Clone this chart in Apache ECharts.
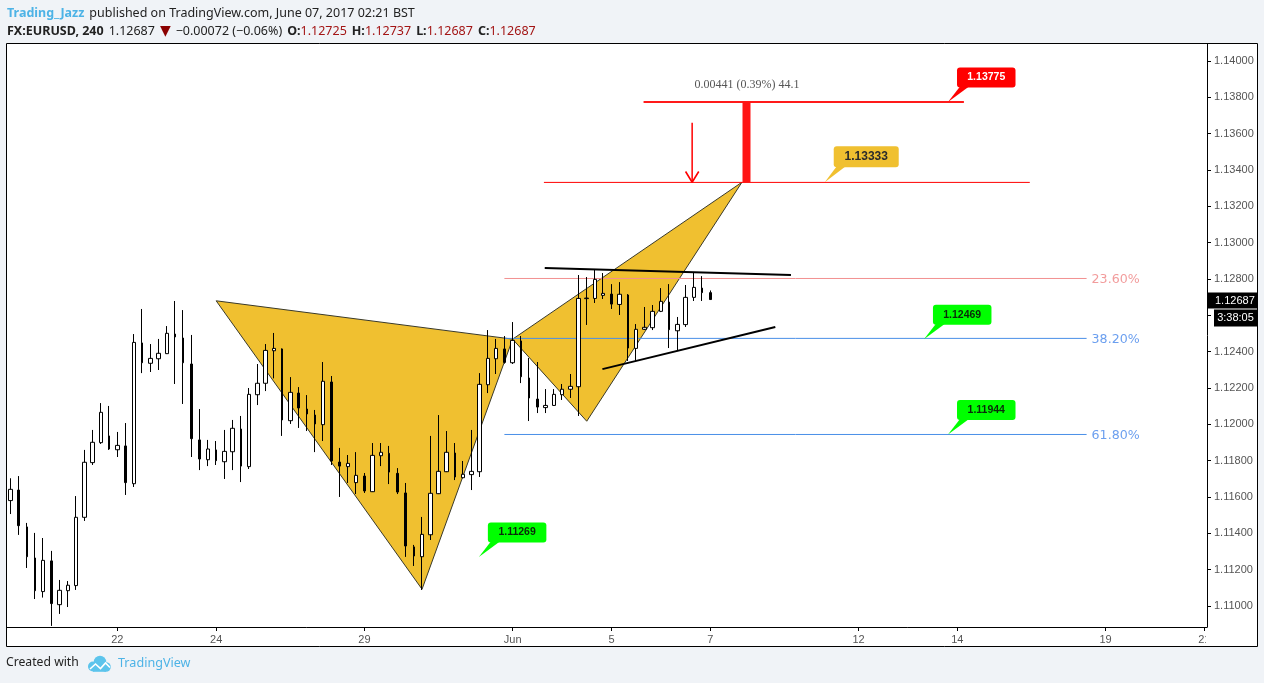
<!DOCTYPE html>
<html>
<head>
<meta charset="utf-8">
<style>html,body{margin:0;padding:0;background:#F0F3F7}#c{width:1264px;height:683px}</style>
<script src="https://cdn.jsdelivr.net/npm/echarts@6/dist/echarts.min.js"></script>
</head>
<body>
<div id="c"></div>
<script>
const opens=[1.11580,1.11638,1.11435,1.11264,1.11079,1.11248,1.11007,1.11084,1.11112,1.11488,1.11789,1.11899,1.11936,1.11860,1.11881,1.11673,1.12448,1.12336,1.12361,1.12389,1.12497,1.12475,1.12332,1.11914,1.11805,1.11859,1.11794,1.11849,1.11974,1.11767,1.12163,1.12226,1.12405,1.12415,1.12020,1.12172,1.12084,1.12051,1.11998,1.12233,1.11792,1.11767,1.11679,1.11715,1.11629,1.11827,1.11840,1.11730,1.11622,1.11325,1.11271,1.11392,1.11618,1.11739,1.11842,1.11706,1.11723,1.11739,1.12218,1.12361,1.12415,1.12339,1.12459,1.12255,1.12139,1.12092,1.12104,1.12163,1.12193,1.12207,1.12692,1.12693,1.12710,1.12717,1.12660,1.12712,1.12418,1.12523,1.12532,1.12622,1.12673,1.12515,1.12549,1.12699,1.12750,1.12725];
const closes=[1.11642,1.11442,1.11271,1.11084,1.11251,1.11013,1.11086,1.11114,1.11488,1.11791,1.11901,1.12066,1.11864,1.11884,1.11679,1.12451,1.12339,1.12363,1.12391,1.12501,1.12481,1.12339,1.11921,1.11809,1.11864,1.11800,1.11851,1.11978,1.11770,1.12165,1.12226,1.12407,1.12418,1.12024,1.12176,1.12090,1.12057,1.12002,1.12237,1.11798,1.11770,1.11785,1.11719,1.11633,1.11829,1.11846,1.11737,1.11627,1.11330,1.11275,1.11394,1.11620,1.11741,1.11846,1.11710,1.11725,1.11741,1.12220,1.12363,1.12418,1.12341,1.12462,1.12262,1.12145,1.12095,1.12104,1.12165,1.12193,1.12209,1.12693,1.12695,1.12798,1.12721,1.12662,1.12716,1.12420,1.12523,1.12534,1.12622,1.12677,1.12521,1.12550,1.12699,1.12754,1.12725,1.12687];
const lows=[1.11506,1.11391,1.11209,1.11038,1.11046,1.10890,1.10956,1.10994,1.11088,1.11468,1.11776,1.11892,1.11859,1.11820,1.11611,1.11655,1.12282,1.12288,1.12299,1.12387,1.12222,1.12112,1.11820,1.11748,1.11770,1.11776,1.11699,1.11748,1.11682,1.11754,1.12106,1.12183,1.12253,1.11936,1.12002,1.11980,1.11963,1.11847,1.11908,1.11776,1.11600,1.11677,1.11616,1.11622,1.11627,1.11770,1.11671,1.11616,1.11270,1.11220,1.11088,1.11363,1.11616,1.11737,1.11693,1.11703,1.11638,1.11710,1.12172,1.12277,1.12334,1.12332,1.12227,1.12018,1.12062,1.12062,1.12101,1.12134,1.12145,1.12046,1.12547,1.12668,1.12690,1.12635,1.12602,1.12349,1.12349,1.12519,1.12519,1.12618,1.12420,1.12409,1.12536,1.12679,1.12679,1.12687];
const highs=[1.11703,1.11715,1.11457,1.11402,1.11374,1.11303,1.11143,1.11137,1.11605,1.11859,1.11969,1.12117,1.12101,1.11958,1.12007,1.12497,1.12635,1.12442,1.12470,1.12541,1.12679,1.12629,1.12492,1.12084,1.11914,1.11908,1.11969,1.12024,1.12046,1.12200,1.12332,1.12442,1.12503,1.12418,1.12260,1.12205,1.12161,1.12079,1.12343,1.12266,1.11870,1.11831,1.11847,1.11732,1.11897,1.11897,1.11881,1.11759,1.11677,1.11336,1.11490,1.11936,1.12051,1.11963,1.11897,1.11798,1.11969,1.12282,1.12519,1.12470,1.12486,1.12563,1.12486,1.12365,1.12343,1.12194,1.12194,1.12222,1.12277,1.12822,1.12811,1.12855,1.12833,1.12772,1.12783,1.12717,1.12552,1.12646,1.12657,1.12750,1.12772,1.12591,1.12767,1.12833,1.12816,1.12737];

const xTickIndex=[13,25,43,61,73,85,103,115,133,145];
const xTickLabels=['22','24','29','Jun','5','7','12','14','19','21'];
const yTicks=[1.11,1.112,1.114,1.116,1.118,1.12,1.122,1.124,1.126,1.128,1.13,1.132,1.134,1.136,1.138,1.14];

const patternLeft=[[25,1.12680],[50,1.11092],[61,1.12469]];
const patternRight=[[61,1.12469],[70,1.12017],[88.85,1.13333]];

const targetUpper=[[76.9,1.13775],[115.8,1.13775]];
const targetLower=[[64.8,1.13332],[123.8,1.13332]];
const redBar=[[89.4,1.13775],[89.4,1.13333]];
const arrowShaft=[[82.8,1.13660],[82.8,1.13333]];
const arrowHead=[[82.0,1.13392],[82.8,1.13333],[83.6,1.13392]];
const measureText='0.00441 (0.39%) 44.1';
const measurePoint=[89.4,1.13775];

const fib236=[[60,1.12803],[130.7,1.12803]];
const fib382=[[60,1.12473],[130.7,1.12473]];
const fib618=[[60,1.11944],[130.7,1.11944]];

const trendUpper=[[64.9,1.12860],[94.8,1.12822]];
const trendLower=[[71.9,1.12304],[92.9,1.12536]];

const calloutIdx=[113.87,98.9,110.95,113.87,56.9];
const calloutPrice=[1.13775,1.13333,1.12469,1.11944,1.11269];
const calloutText=['1.13775','1.13333','1.12469','1.11944','1.11269'];
const calloutFill=['#FF0000','#F0C030','#00FF00','#00FF00','#00FF00'];
const calloutInk=['#FFFFFF','#2B2B2B','#0A2A0A','#0A2A0A','#0A2A0A'];

const lastPrice=1.12687, countdown='3:38:05';

const xMin=-0.4, xMax=145.32, yMin=1.10884, yMax=1.14094;
const font='"Liberation Sans",Arial,sans-serif', uiFont='"Noto Sans",sans-serif';

const upData=[],downData=[];
opens.forEach((o,i)=>{
  const row=[i,o,closes[i],lows[i],highs[i]];
  (closes[i]>=o?upData:downData).push(row);
});

function line(points,color,width,z,extra){
  return Object.assign({type:'line',data:points,symbol:'none',silent:true,z:z,
    lineStyle:{color:color,width:width},emphasis:{disabled:true}},extra||{});
}
function fibLine(points,color,text,textColor){
  return line(points,color,1,1,{endLabel:{show:true,formatter:text,color:textColor,offset:[0,1],
    fontFamily:'"DejaVu Sans",sans-serif',fontSize:12.6,distance:5}});
}
function polygon(points){
  return {type:'custom',silent:true,z:0,data:[points[0]],clip:false,
    renderItem:(p,api)=>({type:'polygon',
      shape:{points:points.map(q=>api.coord(q))},
      style:{fill:'#F0C030',stroke:'#3A3A2A',lineWidth:1}})};
}
function candles(data,width){
  return {type:'candlestick',data:data,barWidth:width,silent:true,z:3,
    itemStyle:{color:'#FFFFFF',color0:'#000000',borderColor:'#000000',borderColor0:'#000000',borderWidth:1}};
}

const option={
  animation:false,
  backgroundColor:'#F0F3F7',
  title:[
    {left:7,top:4,padding:0,text:'{a|Trading_Jazz} {b|published on TradingView.com, June 07, 2017 02:21 BST}',
     textStyle:{fontWeight:'normal',rich:{a:{color:'#4DB3E6',fontFamily:uiFont,fontWeight:'bold',fontSize:12.5},b:{color:'#222',fontFamily:uiFont,fontWeight:'normal',fontSize:12.5}}}},
    {left:7,top:22,padding:0,text:'{k|FX:EURUSD, 240} {b|1.12687} {t|▼} {b|\u22120.00072 (\u22120.06%)} {k|O:}{v|1.12725} {k|H:}{v|1.12737} {k|L:}{v|1.12687} {k|C:}{v|1.12687}',
     textStyle:{fontWeight:'normal',rich:{k:{color:'#222',fontFamily:uiFont,fontWeight:'bold',fontSize:12.5},b:{color:'#222',fontFamily:uiFont,fontWeight:'normal',fontSize:12.5},
       t:{color:'#8B0000',fontSize:14,lineHeight:12,fontWeight:'normal',fontFamily:'"DejaVu Sans",sans-serif'},v:{color:'#A31515',fontFamily:uiFont,fontWeight:'normal',fontSize:12.5}}}},
    {left:6,top:657,padding:0,text:'Created with',textStyle:{color:'#222',fontFamily:uiFont,fontWeight:'normal',fontSize:12.2}},
    {left:118,top:657,padding:0,text:'TradingView',textStyle:{color:'#4DB3E6',fontFamily:uiFont,fontWeight:'normal',fontSize:12.6}}
  ],
  grid:{left:7,right:57,top:44,bottom:56,containLabel:false},
  xAxis:{type:'value',min:xMin,max:xMax,splitLine:{show:false},
    axisLine:{show:true,onZero:false,lineStyle:{color:'#000',width:1}},
    axisTick:{show:true,length:4,customValues:xTickIndex,lineStyle:{color:'#000'}},
    axisLabel:{customValues:xTickIndex,margin:7,color:'#555',fontFamily:font,fontSize:11,
      formatter:v=>xTickLabels[xTickIndex.indexOf(v)]}},
  yAxis:{type:'value',position:'right',min:yMin,max:yMax,scale:true,splitLine:{show:false},
    axisLine:{show:true,onZero:false,lineStyle:{color:'#000',width:1}},
    axisTick:{show:true,length:4,customValues:yTicks,lineStyle:{color:'#000'}},
    axisLabel:{customValues:yTicks,margin:7,color:'#555',fontFamily:font,fontSize:11,padding:[4,0,0,0],formatter:v=>v.toFixed(5)}},
  graphic:[
    {type:'rect',z:-10,silent:true,shape:{x:6.5,y:43.5,width:1251,height:603},style:{fill:'#FFFFFF',stroke:'#000',lineWidth:1}},
    {type:'rect',z:100,silent:true,shape:{x:1206,y:628,width:50,height:17},style:{fill:'#FFFFFF'}},
    {type:'group',silent:true,children:[
      {type:'circle',shape:{cx:93,cy:666.5,r:5},style:{fill:'#5CC4EC'}},
      {type:'circle',shape:{cx:100,cy:662,r:6.2},style:{fill:'#5CC4EC'}},
      {type:'circle',shape:{cx:106,cy:667,r:4.8},style:{fill:'#5CC4EC'}},
      {type:'rect',shape:{x:93,y:665,width:13,height:6.8},style:{fill:'#5CC4EC'}},
      {type:'polyline',shape:{points:[[90,669],[95.5,664],[100.5,668.5],[105.5,663],[110,667.5]]},style:{stroke:'#FFFFFF',lineWidth:1.6,fill:null}}
    ]}
  ],
  series:[
    polygon(patternLeft),
    polygon(patternRight),
    fibLine(fib236,'#F29090','23.60%','#F29C9C'),
    fibLine(fib382,'#4A8FE8','38.20%','#6B9FEF'),
    fibLine(fib618,'#4A8FE8','61.80%','#6B9FEF'),
    candles(upData,4),
    candles(downData,2),
    line(targetUpper,'#FF1A1A',2,4),
    line(targetLower,'#FF0000',1,4),
    line(arrowShaft,'#FF0000',1.5,4),
    line(arrowHead,'#FF0000',1.6,4),
    line(redBar,'#FF1414',8,4,{lineStyle:{color:'#FF1414',width:8,cap:'butt'}}),
    line(trendUpper,'#000000',2,5),
    line(trendLower,'#000000',2,5),
    {type:'custom',silent:true,z:6,clip:false,data:[measurePoint],
      renderItem:(p,api)=>{const c=api.coord(measurePoint);return {type:'text',x:c[0]+0.5,y:c[1]-17,
        style:{text:measureText,fill:'#555',font:'12px "Liberation Serif",serif',align:'center',verticalAlign:'middle'}};}},
    {type:'custom',silent:true,z:7,clip:false,
      data:calloutIdx.map((x,i)=>[x,calloutPrice[i],i]),
      renderItem:(p,api)=>{
        const i=api.value(2), c=api.coord([api.value(0),api.value(1)]);
        const big=i===1, w=big?65:58.5, h=big?21:20, left=c[0]+9, top=c[1]-(big?36:34.5);
        return {type:'group',children:[
          {type:'polygon',shape:{points:[c,[left+3,top+h-1],[left+12,top+h-1]]},style:{fill:calloutFill[i]}},
          {type:'rect',shape:{x:left,y:top,width:w,height:h,r:3},style:{fill:calloutFill[i]}},
          {type:'text',x:left+w/2,y:top+h/2,style:{text:calloutText[i],fill:calloutInk[i],
            font:'bold '+(big?'12px':'10.5px')+' "Liberation Sans",Arial,sans-serif',align:'center',verticalAlign:'middle'}}
        ]};
      }},
    {type:'custom',silent:true,z:8,clip:false,data:[[xMax,lastPrice]],
      renderItem:(p,api)=>{
        const c=api.coord([xMax,lastPrice]);
        const x=c[0], y=c[1];
        const ink='"Liberation Sans",Arial,sans-serif';
        return {type:'group',children:[
          {type:'rect',shape:{x:x,y:y-7,width:50,height:16},style:{fill:'#000'}},
          {type:'rect',shape:{x:x+7,y:y+10,width:43,height:17},style:{fill:'#000'}},
          {type:'text',x:x+8,y:y+1,style:{text:lastPrice.toFixed(5),fill:'#FFF',font:'11px '+ink,align:'left',verticalAlign:'middle'}},
          {type:'text',x:x+28.5,y:y+18.5,style:{text:countdown,fill:'#FFF',font:'11px '+ink,align:'center',verticalAlign:'middle'}}
        ]};
      }}
  ]
};
echarts.init(document.getElementById('c'),null,{renderer:'canvas'}).setOption(option);
</script>
</body>
</html>
